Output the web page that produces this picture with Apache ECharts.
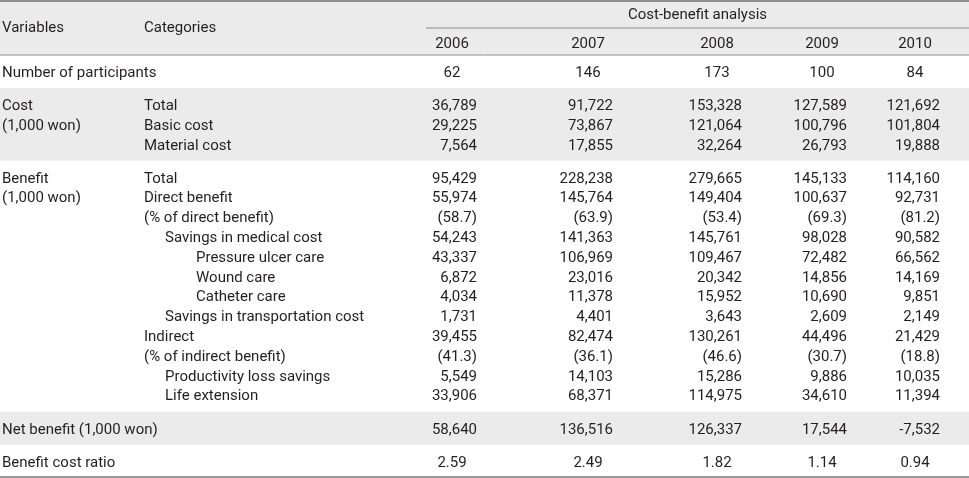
<!DOCTYPE html>
<html>
<head>
<meta charset="utf-8">
<script src="https://cdn.jsdelivr.net/npm/echarts@6/dist/echarts.min.js"></script>
<style>html,body{margin:0;padding:0;background:#fff}#main{width:969px;height:478px}</style>
</head>
<body>
<div id="main"></div>
<script>
// ---------- data ----------
const years = ['2006', '2007', '2008', '2009', '2010'];
const participants = [62, 146, 173, 100, 84];
const costTotal = [36789, 91722, 153328, 127589, 121692];
const costBasic = [29225, 73867, 121064, 100796, 101804];
const costMaterial = [7564, 17855, 32264, 26793, 19888];
const benefitTotal = [95429, 228238, 279665, 145133, 114160];
const directBenefit = [55974, 145764, 149404, 100637, 92731];
const directPct = [58.7, 63.9, 53.4, 69.3, 81.2];
const savingsMedical = [54243, 141363, 145761, 98028, 90582];
const pressureUlcer = [43337, 106969, 109467, 72482, 66562];
const woundCare = [6872, 23016, 20342, 14856, 14169];
const catheterCare = [4034, 11378, 15952, 10690, 9851];
const savingsTransport = [1731, 4401, 3643, 2609, 2149];
const indirectBenefit = [39455, 82474, 130261, 44496, 21429];
const indirectPct = [41.3, 36.1, 46.6, 30.7, 18.8];
const productivityLoss = [5549, 14103, 15286, 9886, 10035];
const lifeExtension = [33906, 68371, 114975, 34610, 11394];
const netBenefit = [58640, 136516, 126337, 17544, -7532];
const bcRatio = [2.59, 2.49, 1.82, 1.14, 0.94];

const headerTitle = 'Cost-benefit analysis';
const headerVariables = 'Variables';
const headerCategories = 'Categories';

// ---------- table structure ----------
const groups = [
  { variable: ['Number of participants'], shaded: false,
    rows: [{ cat: '', level: 0, values: participants, fmt: 'int', center: true }] },
  { variable: ['Cost', '(1,000 won)'], shaded: true,
    rows: [
      { cat: 'Total', level: 0, values: costTotal, fmt: 'int' },
      { cat: 'Basic cost', level: 0, values: costBasic, fmt: 'int' },
      { cat: 'Material cost', level: 0, values: costMaterial, fmt: 'int' }
    ] },
  { variable: ['Benefit', '(1,000 won)'], shaded: false,
    rows: [
      { cat: 'Total', level: 0, values: benefitTotal, fmt: 'int' },
      { cat: 'Direct benefit', level: 0, values: directBenefit, fmt: 'int' },
      { cat: '(% of direct benefit)', level: 0, values: directPct, fmt: 'pct' },
      { cat: 'Savings in medical cost', level: 1, values: savingsMedical, fmt: 'int' },
      { cat: 'Pressure ulcer care', level: 2, values: pressureUlcer, fmt: 'int' },
      { cat: 'Wound care', level: 2, values: woundCare, fmt: 'int' },
      { cat: 'Catheter care', level: 2, values: catheterCare, fmt: 'int' },
      { cat: 'Savings in transportation cost', level: 1, values: savingsTransport, fmt: 'int' },
      { cat: 'Indirect', level: 0, values: indirectBenefit, fmt: 'int' },
      { cat: '(% of indirect benefit)', level: 0, values: indirectPct, fmt: 'pct' },
      { cat: 'Productivity loss savings', level: 1, values: productivityLoss, fmt: 'int' },
      { cat: 'Life extension', level: 1, values: lifeExtension, fmt: 'int' }
    ] },
  { variable: ['Net benefit (1,000 won)'], shaded: true,
    rows: [{ cat: '', level: 0, values: netBenefit, fmt: 'int' }] },
  { variable: ['Benefit cost ratio'], shaded: false,
    rows: [{ cat: '', level: 0, values: bcRatio, fmt: 'ratio', center: true }] }
];

// ---------- layout ----------
const W = 969, H = 478;
const L = {
  headerBottom: 55, titleY: 14, subLineY: 28, yearY: 43, varHeadY: 27,
  spanLeft: 426, rowH: 19.8, groupPad: 13.3, textDy: 1.5,
  varX: 2, catX: 144, indent: [0, 21, 52],
  colCenter: [452, 588, 717, 822, 915], numHalf: 25
};
const FONT = '15px Roboto, "Noto Sans", sans-serif';
const TXT = '#231f20';
const SHADE = '#ebebeb';
const LINE = '#8c8c8c';

function fmt(v, f) {
  if (f === 'pct') return '(' + v.toFixed(1) + ')';
  if (f === 'ratio') return v.toFixed(2);
  return v.toLocaleString('en-US');
}

// compute rows and bands from the structure
const flatRows = [];
const bands = [];
let yCur = L.headerBottom;
groups.forEach(g => {
  const h = g.rows.length * L.rowH + L.groupPad;
  bands.push({ y0: yCur, y1: yCur + h, shaded: g.shaded });
  g.rows.forEach((r, i) => {
    const yc = yCur + L.groupPad / 2 + L.rowH * (i + 0.5);
    flatRows.push(Object.assign({ y: yc, varText: g.variable[i] || '' }, r));
  });
  yCur += h;
});
const tableBottom = yCur;

function txt(api, x, y, text, align) {
  const p = api.coord([x, y + L.textDy]);
  return { type: 'text', x: p[0], y: p[1],
    style: { text: text, fill: TXT, font: FONT, align: align || 'left', verticalAlign: 'middle' } };
}
function hline(api, x0, x1, y, w, c) {
  const a = api.coord([x0, y]), b = api.coord([x1, y]);
  return { type: 'line', shape: { x1: a[0], y1: a[1], x2: b[0], y2: b[1] },
    style: { stroke: c || LINE, lineWidth: w || 1 } };
}

const option = {
  animation: false,
  grid: { left: 0, right: 0, top: 0, bottom: 0 },
  xAxis: { type: 'value', min: 0, max: W, show: false },
  yAxis: { type: 'value', min: 0, max: H, inverse: true, show: false },
  series: [
    { // background bands and rules
      type: 'custom', coordinateSystem: 'cartesian2d', z: 1, silent: true,
      data: [0],
      renderItem: function (params, api) {
        const ch = [];
        const h0 = api.coord([0, 0]), h1 = api.coord([W, L.headerBottom]);
        ch.push({ type: 'rect', shape: { x: h0[0], y: h0[1], width: h1[0] - h0[0], height: h1[1] - h0[1] }, style: { fill: SHADE } });
        bands.forEach(b => {
          if (!b.shaded) return;
          const a = api.coord([0, b.y0]), c = api.coord([W, b.y1]);
          ch.push({ type: 'rect', shape: { x: a[0], y: a[1], width: c[0] - a[0], height: c[1] - a[1] }, style: { fill: SHADE } });
        });
        ch.push(hline(api, 0, W, 1, 2, '#8f8f8f'));
        ch.push(hline(api, L.spanLeft, W, L.subLineY, 1, LINE));
        ch.push(hline(api, 0, W, L.headerBottom, 1, LINE));
        ch.push(hline(api, 0, W, tableBottom - 1, 2, '#9a9a9a'));
        return { type: 'group', children: ch };
      }
    },
    { // header texts
      type: 'custom', coordinateSystem: 'cartesian2d', z: 3, silent: true,
      data: [0],
      renderItem: function (params, api) {
        const ch = [];
        ch.push(txt(api, L.varX, L.varHeadY, headerVariables));
        ch.push(txt(api, L.catX, L.varHeadY, headerCategories));
        ch.push(txt(api, (L.spanLeft + W) / 2, L.titleY, headerTitle, 'center'));
        years.forEach((yr, j) => ch.push(txt(api, L.colCenter[j], L.yearY, yr, 'center')));
        return { type: 'group', children: ch };
      }
    },
    { // table body: one data item per row
      type: 'custom', coordinateSystem: 'cartesian2d', z: 3, silent: true,
      data: flatRows.map((r, i) => [i]),
      renderItem: function (params, api) {
        const r = flatRows[params.dataIndex];
        const ch = [];
        if (r.varText) ch.push(txt(api, L.varX, r.y, r.varText));
        if (r.cat) ch.push(txt(api, L.catX + L.indent[r.level], r.y, r.cat));
        r.values.forEach((v, j) => {
          const s = fmt(v, r.fmt);
          if (r.center) ch.push(txt(api, L.colCenter[j], r.y, s, 'center'));
          else ch.push(txt(api, L.colCenter[j] + L.numHalf, r.y, s, 'right'));
        });
        return { type: 'group', children: ch };
      }
    }
  ]
};
const chart = echarts.init(document.getElementById('main'), null, { renderer: 'canvas' });
chart.setOption(option);
</script>
</body>
</html>
